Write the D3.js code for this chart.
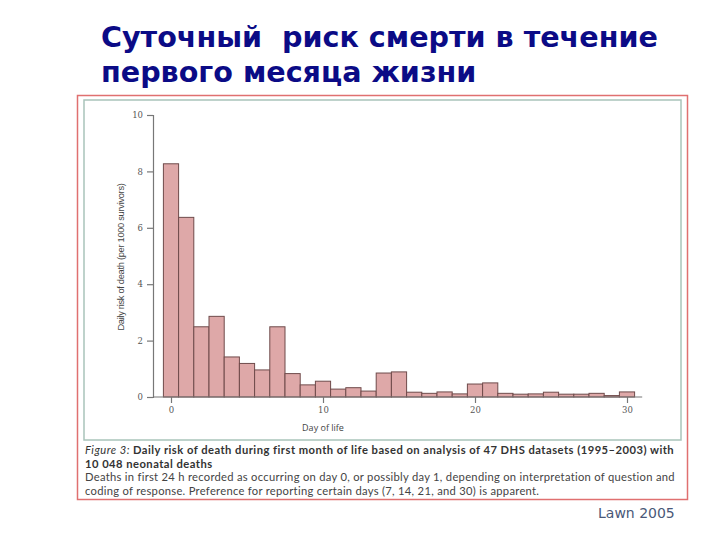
<!DOCTYPE html>
<html><head><meta charset="utf-8">
<script src="https://cdn.jsdelivr.net/npm/d3@7"></script>
<style>body{margin:0;background:#fff}svg{display:block}text{white-space:pre}</style>
</head><body>
<svg id="c" width="720" height="540"></svg>
<script>
const days = d3.range(0, 31);
const risk = [8.27, 6.37, 2.49, 2.86, 1.42, 1.19, 0.96, 2.49, 0.83, 0.43, 0.56,
              0.28, 0.33, 0.21, 0.85, 0.89, 0.17, 0.13, 0.18, 0.11, 0.46,
              0.50, 0.13, 0.10, 0.11, 0.17, 0.10, 0.10, 0.13, 0.05, 0.18];
const yTicks = [0, 2, 4, 6, 8, 10];
const xTicks = [0, 10, 20, 30];
const titleLines = ["Суточный  риск смерти в течение", "первого месяца жизни"];
const captionBold = ["Daily risk of death during first month of life based on analysis of 47 DHS datasets (1995–2003) with", "10 048 neonatal deaths"];
const captionText = ["Deaths in first 24 h recorded as occurring on day 0, or possibly day 1, depending on interpretation of question and", "coding of response. Preference for reporting certain days (7, 14, 21, and 30) is apparent."];

const svg = d3.select("#c");

// title
svg.append("g").selectAll("text").data(titleLines).join("text")
  .attr("x", 101).attr("y", (d, i) => 47 + i * 35)
  .attr("font-family", "DejaVu Sans").attr("font-weight", "bold")
  .attr("font-size", 28.6).attr("fill", "#0b0b86").text(d => d);

// frames
svg.append("rect").attr("x", 77.5).attr("y", 95.5).attr("width", 610).attr("height", 404)
  .attr("fill", "none").attr("stroke", "#e07070").attr("stroke-width", 1.5);
svg.append("rect").attr("x", 84).attr("y", 100).attr("width", 597).attr("height", 340)
  .attr("fill", "none").attr("stroke", "#a9c4ba").attr("stroke-width", 1.5);

const x = d3.scaleLinear().domain([0, 30]).range([171, 627]);
const y = d3.scaleLinear().domain([0, 10]).range([397, 115]);

// bars
svg.append("g").selectAll("rect").data(days).join("rect")
  .attr("x", d => x(d - 0.5)).attr("width", d => x(d + 0.5) - x(d - 0.5))
  .attr("y", d => y(risk[d])).attr("height", d => y(0) - y(risk[d]))
  .attr("fill", "#dea8a8").attr("stroke", "#6f4b4b").attr("stroke-width", 1);

// axes
const axisColor = "#777";
const gy = svg.append("g").attr("transform", "translate(153,0)")
  .call(d3.axisLeft(y).tickValues(yTicks).tickSize(6).tickPadding(4));
const gx = svg.append("g").attr("transform", "translate(0,397)")
  .call(d3.axisBottom(x).tickValues(xTicks).tickSize(6).tickPadding(4));
gx.select(".domain").remove();
svg.append("line").attr("x1", 153).attr("x2", x(31)).attr("y1", 397).attr("y2", 397)
  .attr("stroke", axisColor).attr("stroke-width", 1.2);
[gx, gy].forEach(g => {
  g.selectAll("path,line").attr("stroke", axisColor).attr("stroke-width", 1.2);
  g.selectAll("text").attr("font-family", "DejaVu Serif").attr("font-size", 8.5).attr("fill", "#555");
});

svg.append("text").attr("transform", "translate(124,257) rotate(-90)")
  .attr("text-anchor", "middle").attr("font-family", "Liberation Sans Narrow, Liberation Sans")
  .attr("font-size", 9.3).attr("fill", "#444").attr("letter-spacing", -0.3)
  .text("Daily risk of death (per 1000 survivors)");
svg.append("text").attr("x", 323).attr("y", 431).attr("text-anchor", "middle")
  .attr("font-family", "Open Sans").attr("font-size", 9).attr("fill", "#444").text("Day of life");

// caption
const capFont = "Lato";
const capSize = 11.2;
const cap = svg.append("g").attr("font-family", capFont).attr("fill", "#333").attr("font-size", capSize);
const t1 = cap.append("text").attr("x", 85).attr("y", 454).attr("font-weight", "bold");
t1.append("tspan").attr("font-style", "italic").attr("font-weight", "normal").text("Figure 3: ");
t1.append("tspan").text(captionBold[0]);
const t2 = cap.append("text").attr("x", 85).attr("y", 467.5).attr("font-weight", "bold").text(captionBold[1]);
const t3 = captionText.map((t, i) => cap.append("text").attr("x", 85).attr("y", 481 + i * 13.5)
  .attr("fill", "#444").text(t));
// stretch letter spacing so the long lines reach the widths seen in the reference
function fit(t, w) {
  const ls = (w - t.node().getComputedTextLength()) / t.text().length;
  t.attr("letter-spacing", ls);
  return ls;
}
const lsBold = fit(t1, 589);
t2.attr("letter-spacing", lsBold);
const lsReg = fit(t3[0], 590);
t3[1].attr("letter-spacing", lsReg);

svg.append("text").attr("x", 598).attr("y", 518).attr("font-family", "DejaVu Sans")
  .attr("font-size", 14).attr("fill", "#4a5878").text("Lawn 2005");
</script>
</body></html>
